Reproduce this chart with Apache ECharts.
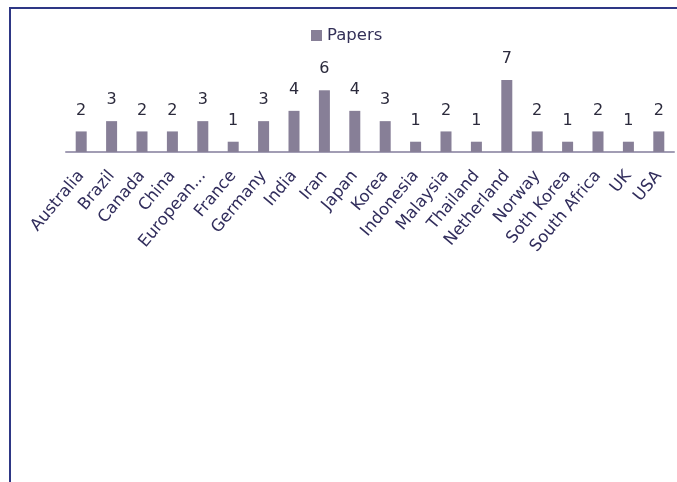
<!DOCTYPE html>
<html lang="en">
<head>
    <meta charset="UTF-8">
    <title>Papers by country</title>
    <style>
        * { margin: 0; padding: 0; }
        body { width: 677px; height: 482px; background: #fff; position: relative; overflow: hidden; }
        .frame {
            position: absolute; left: 9px; top: 7px; right: 0; bottom: 0;
            border-left: 2px solid #2e3785; border-top: 2px solid #2e3785;
        }
        #chart { position: absolute; left: 0; top: 0; width: 677px; height: 482px; }
    </style>
</head>
<body>
    <div class="frame"></div>
    <div id="chart"></div>
<script src="https://cdn.jsdelivr.net/npm/echarts@6/dist/echarts.min.js"></script>
<script>
    const countries = ['Australia', 'Brazil', 'Canada', 'China', 'European...', 'France', 'Germany', 'India', 'Iran',
        'Japan', 'Korea', 'Indonesia', 'Malaysia', 'Thailand', 'Netherland', 'Norway', 'Soth Korea', 'South Africa', 'UK', 'USA'];
    const papers = [2, 3, 2, 2, 3, 1, 3, 4, 6, 4, 3, 1, 2, 1, 7, 2, 1, 2, 1, 2];

    var myChart = echarts.init(document.getElementById('chart'));
    myChart.setOption({
        textStyle: { fontFamily: 'DejaVu Sans' },
        legend: {
            data: ['Papers'],
            left: 306, top: 22,
            itemWidth: 11, itemHeight: 11, itemGap: 5,
            icon: 'rect',
            textStyle: { fontSize: 16.5, color: '#333058', fontFamily: 'DejaVu Sans' }
        },
        grid: { left: 66, right: 3, top: 80, bottom: 330, containLabel: false },
        xAxis: {
            type: 'category',
            data: countries,
            axisLine: { lineStyle: { color: '#a29db4', width: 2 } },
            axisTick: { show: false },
            axisLabel: {
                rotate: 50, interval: 0, margin: 21,
                fontSize: 16.5, color: '#312d5c', fontFamily: 'DejaVu Sans'
            }
        },
        yAxis: { type: 'value', min: 0, max: 7, show: false },
        series: [{
            name: 'Papers',
            type: 'bar',
            data: papers,
            barWidth: 11,
            itemStyle: { color: '#877f97' },
            label: {
                show: true, position: 'top', distance: 13,
                fontSize: 16, color: '#2b2a3c', fontFamily: 'DejaVu Sans'
            }
        }]
    });
</script>
</body>
</html>
